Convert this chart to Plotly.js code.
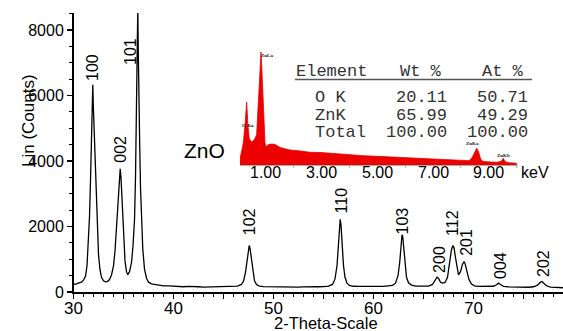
<!DOCTYPE html>
<html><head><meta charset="utf-8">
<script src="https://cdn.plot.ly/plotly-3.0.1.min.js"></script>
<style>html,body{margin:0;padding:0;background:#fff}#chart{width:563px;height:331px}</style>
</head><body><div id="chart"></div>
<script>
// XRD pattern (2-theta, counts)
const twoTheta = [30.0,30.2,30.4,30.6,30.8,31.0,31.2,31.35,31.5,31.6,31.7,31.8,31.88,31.93,31.98,32.05,32.1,32.2,32.3,32.4,32.5,32.65,32.8,33.0,33.2,33.4,33.6,33.8,34.0,34.15,34.3,34.45,34.6,34.67,34.75,34.85,35.0,35.15,35.3,35.43,35.6,35.8,35.95,36.1,36.2,36.3,36.38,36.43,36.47,36.5,36.55,36.62,36.7,36.8,36.93,37.1,37.3,37.5,37.8,38.1,38.5,39.0,39.5,40.0,40.5,41.0,41.5,42.0,42.5,43.0,43.5,44.0,44.5,45.0,45.5,46.0,46.4,46.8,47.0,47.2,47.35,47.5,47.57,47.65,47.8,47.95,48.1,48.3,48.6,49.0,49.5,50.0,50.5,51.0,51.5,52.0,52.5,53.0,53.5,54.0,54.5,55.0,55.5,55.9,56.15,56.35,56.5,56.6,56.67,56.75,56.85,57.0,57.15,57.35,57.6,58.0,58.5,59.0,59.5,60.0,60.5,61.0,61.5,61.9,62.2,62.45,62.62,62.75,62.85,62.92,63.0,63.15,63.3,63.5,63.8,64.2,64.6,65.0,65.5,65.9,66.15,66.35,66.5,66.7,66.9,67.15,67.4,67.6,67.8,67.95,68.05,68.2,68.35,68.5,68.7,68.9,69.05,69.15,69.35,69.55,69.8,70.1,70.5,71.0,71.5,72.0,72.3,72.5,72.7,73.0,73.5,74.0,74.5,75.0,75.5,76.0,76.4,76.7,76.85,77.05,77.3,77.7,78.2,78.6,78.95];
const counts = [250,235,260,270,300,360,480,800,1500,2300,3400,4900,6000,6330,5700,5000,4950,3900,2700,1800,1150,680,450,340,310,320,380,520,800,1250,2000,3000,3650,3760,3500,2800,1600,950,620,530,620,900,1400,2200,3500,5500,7800,8700,7500,6600,6300,4500,3200,2200,1300,700,420,300,250,230,210,190,185,175,165,160,170,155,160,150,155,145,150,150,155,160,180,230,330,600,950,1330,1420,1340,950,560,340,230,180,165,160,155,160,150,155,150,150,155,150,155,160,165,180,230,400,800,1500,2050,2220,2050,1500,800,450,270,200,175,170,165,170,165,170,170,175,200,270,500,900,1450,1750,1700,1450,850,450,280,210,180,175,170,180,230,350,450,420,300,270,290,450,850,1300,1420,1350,1050,700,520,620,850,920,880,620,380,240,190,170,165,160,175,220,270,230,175,155,150,145,150,145,160,210,300,320,260,190,150,140,135,130];
const peakLabels = ["100","002","101","102","110","103","200","112","201","004","202"];
const peakLabelTheta = [31.95,34.62,35.65,47.55,56.8,62.9,66.65,67.95,69.35,72.65,76.95];
const peakLabelCounts = [6840,4366,7328,2130,2780,2170,980,2110,1500,794,855];
const thetaTickVals = [30,40,50,60,70];
const thetaTickText = ["30","40","50","60","70"];

// EDS inset spectrum (keV, relative intensity)
const edsEnergy = [0.107,0.16,0.225,0.286,0.346,0.39,0.44,0.525,0.61,0.70,0.77,0.82,0.857,0.89,0.94,1.0,1.04,1.12,1.25,1.36,1.54,1.7,1.89,2.13,2.4,2.61,3.0,3.32,3.8,4.5,5.0,5.7,6.2,6.89,7.5,8.07,8.29,8.39,8.48,8.56,8.63,8.7,8.79,9.27,9.43,9.51,9.57,9.68,9.99];
const edsIntensity = [6,12,22,40,63,40,26,23,25,30,65,100,113,95,55,22,18,20.5,21,20.5,17.5,16.5,15,14.5,13.5,12.7,12.5,11.7,10.5,9.3,8.7,7.7,7.2,6,5.2,4.3,4.3,7,12,16.7,13,6,3.5,2.7,3.5,6.7,3.5,2.3,1.7];
const edsTickVals = [1,3,5,7,9];
const edsTickText = ["1.00","3.00","5.00","7.00","9.00"];
const edsLineNames = ["ZnLa","O Ka","ZnKa","ZnKb"];

// composition table
const tableHeader = ["Element","Wt %","At %"];
const tableElements = ["O K","ZnK","Total"];
const tableWt = ["20.11","65.99","100.00"];
const tableAt = ["50.71","49.29","100.00"];

const W = 563, H = 331;
const px = p => p / W;
const py = p => 1 - p / H;

const sans = "Liberation Sans, Arial, sans-serif";
const mono = "Liberation Mono, Courier New, monospace";

const traces = [
  {x: twoTheta, y: counts, type: "scatter", mode: "lines", line: {color: "#000", width: 1.3}, xaxis: "x", yaxis: "y", hoverinfo: "skip"},
  {x: edsEnergy, y: edsIntensity, type: "scatter", mode: "lines", fill: "tozeroy", fillcolor: "rgb(236,0,0)", line: {color: "rgb(236,0,0)", width: 0.8}, xaxis: "x2", yaxis: "y2", hoverinfo: "skip"}
];

const annotations = [];
peakLabels.forEach((t, i) => annotations.push({
  x: peakLabelTheta[i], y: peakLabelCounts[i], xref: "x", yref: "y", text: t, showarrow: false,
  textangle: -90, xanchor: "center", yanchor: "middle", font: {family: sans, size: 16, color: "#000"}
}));
// main 2-theta tick labels, positioned on the x axis scale
thetaTickVals.forEach((v, i) => annotations.push({
  x: v, y: py(308.5), xref: "x", yref: "paper", text: thetaTickText[i], showarrow: false, borderpad: 0,
  xanchor: "center", yanchor: "middle", font: {family: sans, size: 17, color: "#000"}
}));
// inset tick labels, placed on the inset's own energy axis
edsTickVals.forEach((v, i) => annotations.push({
  x: v, y: py(172), xref: "x2", yref: "paper", text: edsTickText[i], showarrow: false, borderpad: 0,
  xanchor: "center", yanchor: "middle", font: {family: sans, size: 16, color: "#000"}
}));
// axis titles
annotations.push({x: px(29), y: py(121), xref: "paper", yref: "paper", text: "Lin (Counts)", textangle: -90, showarrow: false, xanchor: "center", yanchor: "middle", font: {family: sans, size: 17, color: "#000"}});
annotations.push({x: px(326), y: py(322.5), xref: "paper", yref: "paper", text: "2-Theta-Scale", showarrow: false, borderpad: 0, xanchor: "center", yanchor: "middle", font: {family: sans, size: 16.5, color: "#000"}});
annotations.push({x: px(204), y: py(150), xref: "paper", yref: "paper", text: "ZnO", showarrow: false, xanchor: "center", yanchor: "middle", font: {family: sans, size: 21, color: "#000"}});
annotations.push({x: px(535), y: py(172), xref: "paper", yref: "paper", text: "keV", showarrow: false, borderpad: 0, xanchor: "center", yanchor: "middle", font: {family: sans, size: 16, color: "#000"}});
// tiny EDS line labels
const edsLabelPos = [[266.5, 55.7], [248, 126], [472.5, 143.3], [503, 155]];
edsLineNames.forEach((t, i) => annotations.push({x: px(edsLabelPos[i][0]), y: py(edsLabelPos[i][1]), xref: "paper", yref: "paper", text: "<b>" + t + "</b>", showarrow: false, xanchor: "center", yanchor: "middle", font: {family: "Liberation Serif, serif", size: 5, color: "#222"}}));
// table
const tcol = "#333";
const rowY = [97.5, 115, 132];
annotations.push({x: px(294), y: py(71.5), xref: "paper", yref: "paper", text: tableHeader[0], showarrow: false, xanchor: "left", yanchor: "middle", font: {family: mono, size: 17, color: tcol}});
annotations.push({x: px(444), y: py(71.5), xref: "paper", yref: "paper", text: tableHeader[1], showarrow: false, xanchor: "right", yanchor: "middle", font: {family: mono, size: 17, color: tcol}});
annotations.push({x: px(526), y: py(71.5), xref: "paper", yref: "paper", text: tableHeader[2], showarrow: false, xanchor: "right", yanchor: "middle", font: {family: mono, size: 17, color: tcol}});
tableElements.forEach((t, i) => {
  annotations.push({x: px(314), y: py(rowY[i]), xref: "paper", yref: "paper", text: t.replace(/ /g, "&nbsp;"), showarrow: false, borderpad: 0, xanchor: "left", yanchor: "middle", font: {family: mono, size: 17, color: tcol}});
  annotations.push({x: px(448), y: py(rowY[i]), xref: "paper", yref: "paper", text: tableWt[i], showarrow: false, borderpad: 0, xanchor: "right", yanchor: "middle", font: {family: mono, size: 17, color: tcol}});
  annotations.push({x: px(529), y: py(rowY[i]), xref: "paper", yref: "paper", text: tableAt[i], showarrow: false, borderpad: 0, xanchor: "right", yanchor: "middle", font: {family: mono, size: 17, color: tcol}});
});

const layout = {
  width: W, height: H, margin: {l: 0, r: 0, t: 0, b: 0},
  paper_bgcolor: "#fff", plot_bgcolor: "rgba(0,0,0,0)", showlegend: false,
  xaxis: {
    domain: [px(73.5), 1], range: [30, 78.95], anchor: "y",
    tickvals: [30,35,40,45,50,55,60,65,70,75], showticklabels: false,
    ticks: "outside", ticklen: 5, tickwidth: 1.5, tickcolor: "#000",
    minor: {dtick: 1, tick0: 30, ticks: "outside", ticklen: 3, tickwidth: 1, tickcolor: "#000", showgrid: false},
    showline: true, linecolor: "#000", linewidth: 1.5, showgrid: false, zeroline: false
  },
  yaxis: {
    domain: [1 - 292 / H, 1 - 13 / H], range: [0, 8519], anchor: "x",
    tickvals: [0,2000,4000,6000,8000],
    ticks: "outside", ticklen: 5, tickwidth: 1.5, tickcolor: "#000",
    minor: {dtick: 500, tick0: 0, ticks: "outside", ticklen: 3, tickwidth: 1, tickcolor: "#000", showgrid: false},
    showline: true, linecolor: "#000", linewidth: 1.5, showgrid: false, zeroline: false,
    tickfont: {family: sans, size: 16, color: "#000"}
  },
  xaxis2: {
    domain: [px(240), px(518)], range: [0.107, 10.036], anchor: "y2",
    tickvals: edsTickVals, showticklabels: false,
    ticks: "outside", ticklen: 2, tickwidth: 1, tickcolor: "#999",
    minor: {dtick: 1, tick0: 0, ticks: "outside", ticklen: 2, tickwidth: 1, tickcolor: "#aaa", showgrid: false},
    showline: true, linecolor: "#aaa", linewidth: 1, showgrid: false, zeroline: false
  },
  yaxis2: {domain: [1 - 165 / H, 1 - 45 / H], range: [0, 120], anchor: "x2", visible: false, showgrid: false, zeroline: false},
  annotations: annotations,
  shapes: [{type: "line", xref: "paper", yref: "paper", x0: px(295), x1: px(532), y0: py(79.5), y1: py(79.5), line: {color: "#555", width: 1.5}}]
};

Plotly.newPlot("chart", traces, layout, {staticPlot: true, displayModeBar: false});
</script></body></html>
